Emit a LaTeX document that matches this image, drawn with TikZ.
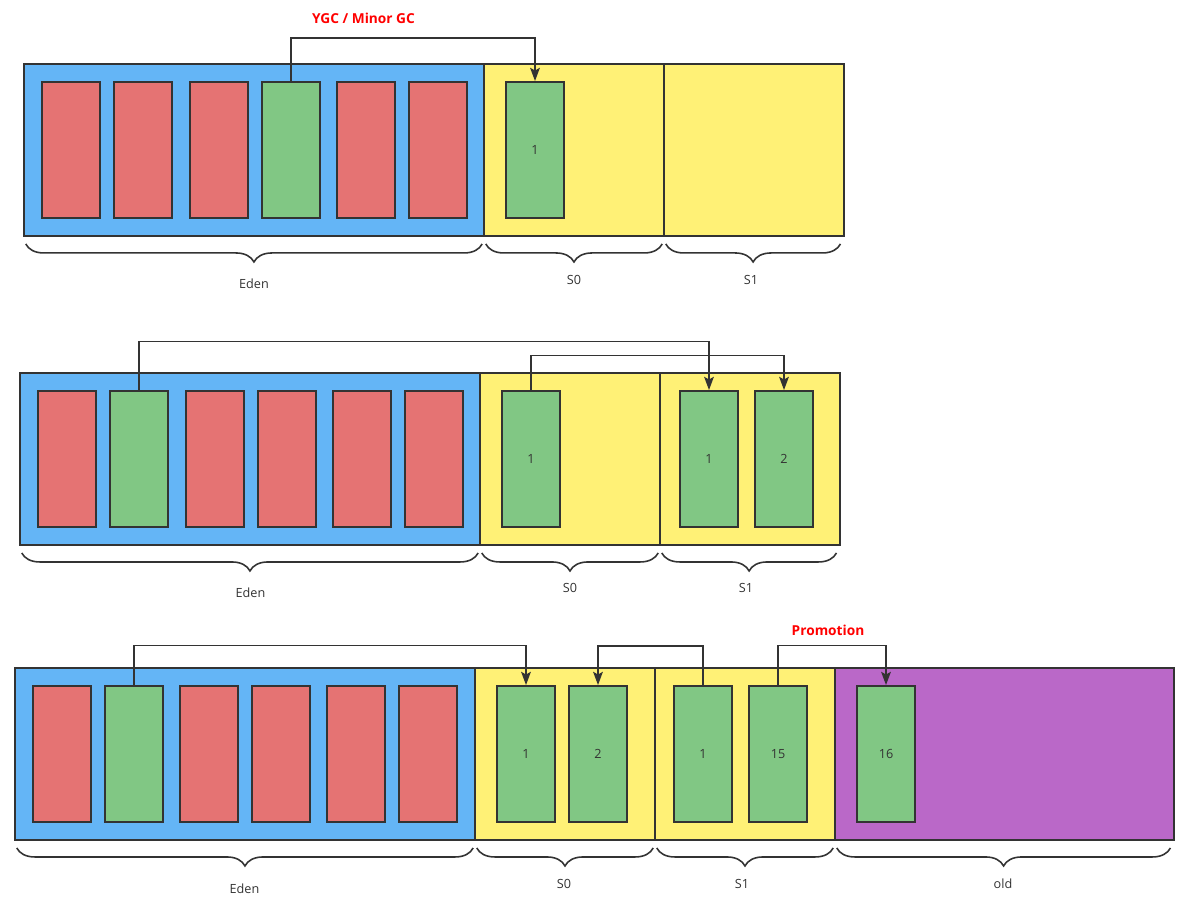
\documentclass[tikz,border=0pt]{standalone}
\usepackage{fontspec}
\setmainfont{Open Sans}
\usetikzlibrary{arrows.meta,decorations.pathreplacing}

\definecolor{edenblue}{HTML}{64B5F6}
\definecolor{survyellow}{HTML}{FFF176}
\definecolor{oldpurple}{HTML}{BA68C8}
\definecolor{deadred}{HTML}{E57373}
\definecolor{livegreen}{HTML}{81C784}
\definecolor{edge}{HTML}{333333}

\tikzset{
  region/.style={anchor=north west, inner sep=0pt, outer sep=0pt, minimum height=3.44cm},
  rim/.style={draw=edge, line width=1.1pt},
  obj/.style={draw=edge, line width=1.1pt, inner sep=0pt, minimum width=1.16cm, minimum height=2.72cm, font=\fontsize{7.2}{8.5}\selectfont, text=edge},
  dead/.style={obj, fill=deadred},
  live/.style={obj, fill=livegreen},
  arr/.style={draw=edge, line width=1pt, -{Stealth[length=7.5pt,width=5.5pt,inset=1.5pt]}},
  brc/.style={draw=edge, line width=0.9pt, decorate, decoration={brace, mirror, amplitude=0.36cm}},
  lbl/.style={font=\fontsize{7.2}{8.5}\selectfont, text=edge},
  note/.style={font=\bfseries\fontsize{7.8}{9}\selectfont, text=red}
}

\begin{document}
\begin{tikzpicture}[x=0.02cm, y=-0.02cm]
  \useasboundingbox (0,0) rectangle (1192,901);

  % first minor gc
  \node[note] (ygc) at (363.5,18) {YGC / Minor GC};
  \node[region, fill=edenblue, minimum width=9.2cm] (eden1) at (24,64) {};
  \node[region, fill=survyellow, minimum width=3.6cm] (sa1) at (484,64) {};
  \node[region, fill=survyellow, minimum width=3.6cm] (sb1) at (664,64) {};
  \foreach \r in {eden1,sa1,sb1}
    \draw[rim] (\r.south west) rectangle (\r.north east);

  \node[dead] (e1a) at (71,150) {};
  \node[dead] (e1b) at (143,150) {};
  \node[dead] (e1c) at (219,150) {};
  \node[live] (e1d) at (291,150) {};
  \node[dead] (e1e) at (366,150) {};
  \node[dead] (e1f) at (438,150) {};
  \node[live] (sa1a) at (535,150) {1};

  \draw[arr] (e1d.north) -- ++(0,-43) -| (sa1a.north);

  \draw[brc] ([xshift=1pt,yshift=-0.16cm]eden1.south west) -- ([xshift=-1pt,yshift=-0.16cm]eden1.south east);
  \draw[brc] ([xshift=1pt,yshift=-0.16cm]sa1.south west) -- ([xshift=-1pt,yshift=-0.16cm]sa1.south east);
  \draw[brc] ([xshift=1pt,yshift=-0.16cm]sb1.south west) -- ([xshift=-2pt,yshift=-0.16cm]sb1.south east);
  \node[lbl] (eden1l) at (254,284) {Eden};
  \node[lbl] (sa1l) at (574,279.5) {S0};
  \node[lbl] (sb1l) at (751,279.5) {S1};

  % second minor gc
  \node[region, fill=edenblue, minimum width=9.2cm] (eden2) at (20,373) {};
  \node[region, fill=survyellow, minimum width=3.6cm] (sa2) at (480,373) {};
  \node[region, fill=survyellow, minimum width=3.6cm] (sb2) at (660,373) {};
  \foreach \r in {eden2,sa2,sb2}
    \draw[rim] (\r.south west) rectangle (\r.north east);

  \node[dead] (e2a) at (67,459) {};
  \node[live] (e2b) at (139,459) {};
  \node[dead] (e2c) at (215,459) {};
  \node[dead] (e2d) at (287,459) {};
  \node[dead] (e2e) at (362,459) {};
  \node[dead] (e2f) at (434,459) {};
  \node[live] (sa2a) at (531,459) {1};
  \node[live] (sb2a) at (709,459) {1};
  \node[live] (sb2b) at (784,459) {2};

  \draw[arr] (e2b.north) -- ++(0,-48.5) -| (sb2a.north);
  \draw[arr] (sa2a.north) -- ++(0,-34.5) -| (sb2b.north);

  \draw[brc] ([xshift=1pt,yshift=-0.16cm]eden2.south west) -- ([xshift=-1pt,yshift=-0.16cm]eden2.south east);
  \draw[brc] ([xshift=1pt,yshift=-0.16cm]sa2.south west) -- ([xshift=-1pt,yshift=-0.16cm]sa2.south east);
  \draw[brc] ([xshift=1pt,yshift=-0.16cm]sb2.south west) -- ([xshift=-2pt,yshift=-0.16cm]sb2.south east);
  \node[lbl] (eden2l) at (250.5,593) {Eden};
  \node[lbl] (sa2l) at (570,588) {S0};
  \node[lbl] (sb2l) at (746,588) {S1};

  % promotion to old
  \node[note] (promo) at (828,630) {Promotion};
  \node[region, fill=edenblue, minimum width=9.2cm] (eden3) at (15,668) {};
  \node[region, fill=survyellow, minimum width=3.6cm] (sa3) at (475,668) {};
  \node[region, fill=survyellow, minimum width=3.6cm] (sb3) at (655,668) {};
  \node[region, fill=oldpurple, minimum width=6.78cm] (old3) at (835,668) {};
  \foreach \r in {eden3,sa3,sb3,old3}
    \draw[rim] (\r.south west) rectangle (\r.north east);

  \node[dead] (e3a) at (62,754) {};
  \node[live] (e3b) at (134,754) {};
  \node[dead] (e3c) at (209,754) {};
  \node[dead] (e3d) at (281,754) {};
  \node[dead] (e3e) at (356,754) {};
  \node[dead] (e3f) at (428,754) {};
  \node[live] (sa3a) at (526,754) {1};
  \node[live] (sa3b) at (598,754) {2};
  \node[live] (sb3a) at (703,754) {1};
  \node[live] (sb3b) at (778,754) {15};
  \node[live] (old3a) at (886,754) {16};

  \draw[arr] (e3b.north) -- ++(0,-39.5) -| (sa3a.north);
  \draw[arr] (sb3a.north) -- ++(0,-39) -| (sa3b.north);
  \draw[arr] (sb3b.north) -- ++(0,-39.5) -| (old3a.north);

  \draw[brc] ([xshift=1pt,yshift=-0.16cm]eden3.south west) -- ([xshift=-1pt,yshift=-0.16cm]eden3.south east);
  \draw[brc] ([xshift=1pt,yshift=-0.16cm]sa3.south west) -- ([xshift=-1pt,yshift=-0.16cm]sa3.south east);
  \draw[brc] ([xshift=1pt,yshift=-0.16cm]sb3.south west) -- ([xshift=-1pt,yshift=-0.16cm]sb3.south east);
  \draw[brc] ([xshift=1pt,yshift=-0.16cm]old3.south west) -- ([xshift=-2pt,yshift=-0.16cm]old3.south east);
  \node[lbl] (eden3l) at (244.5,888.5) {Eden};
  \node[lbl] (sa3l) at (564,883.5) {S0};
  \node[lbl] (sb3l) at (742,883.5) {S1};
  \node[lbl] (old3l) at (1003,883.5) {old};
\end{tikzpicture}
\end{document}
